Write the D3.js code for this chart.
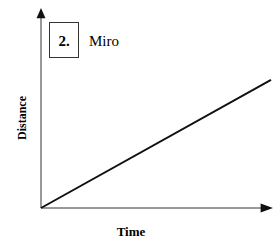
<!DOCTYPE html>
<html>
<head>
<meta charset="utf-8">
<script src="https://cdn.jsdelivr.net/npm/d3@7"></script>
<style>
  html, body { margin: 0; padding: 0; background: #fff; }
  text { font-family: 'Liberation Serif', 'DejaVu Serif', serif; }
</style>
</head>
<body>
<svg id="root" width="273" height="240"></svg>
<script>
// Miro: constant speed, distance grows linearly with time
const time = [0, 10];
const distance = [0, 5.57];
const panelNumber = '2.';
const panelName = 'Miro';

const root = d3.select('#root');

const x = d3.scaleLinear().domain([0, 10]).range([41, 271]);
const y = d3.scaleLinear().domain([0, 8.7]).range([208, 8]);

// axes with arrow heads
root.append('line')
    .attr('x1', x(0)).attr('y1', y(0))
    .attr('x2', x(0)).attr('y2', y(8.3))
    .attr('stroke', '#333').attr('stroke-width', 1);
root.append('path')
    .attr('d', `M${x(0)},${y(8.7)} L${x(0) - 4.5},${y(8.25)} L${x(0) + 4.5},${y(8.25)} Z`)
    .attr('fill', '#111');

root.append('line')
    .attr('x1', x(0)).attr('y1', y(0))
    .attr('x2', x(9.6)).attr('y2', y(0))
    .attr('stroke', '#333').attr('stroke-width', 1);
root.append('path')
    .attr('d', `M${x(10.1)},${y(0)} L${x(9.55)},${y(0) - 4.5} L${x(9.55)},${y(0) + 4.5} Z`)
    .attr('fill', '#111');

// the data line
const line = d3.line()
    .x((d, i) => x(time[i]))
    .y(d => y(d));
root.append('path')
    .datum(distance)
    .attr('d', line)
    .attr('fill', 'none')
    .attr('stroke', '#111')
    .attr('stroke-width', 2);

// panel label
root.append('rect')
    .attr('x', 49.5).attr('y', 22.5)
    .attr('width', 29).attr('height', 35)
    .attr('fill', 'none').attr('stroke', '#333').attr('stroke-width', 1);
root.append('text')
    .attr('x', 64).attr('y', 46)
    .attr('text-anchor', 'middle')
    .attr('font-weight', 'bold')
    .attr('font-size', 15)
    .text(panelNumber);
root.append('text')
    .attr('x', 89).attr('y', 46)
    .attr('font-size', 15)
    .text(panelName);

// axis titles
root.append('text')
    .attr('x', 131).attr('y', 236)
    .attr('text-anchor', 'middle')
    .attr('font-weight', 'bold')
    .attr('font-size', 13)
    .text('Time');
root.append('text')
    .attr('transform', 'translate(26,118) rotate(-90)')
    .attr('text-anchor', 'middle')
    .attr('font-weight', 'bold')
    .attr('font-size', 12)
    .text('Distance');
</script>
</body>
</html>
